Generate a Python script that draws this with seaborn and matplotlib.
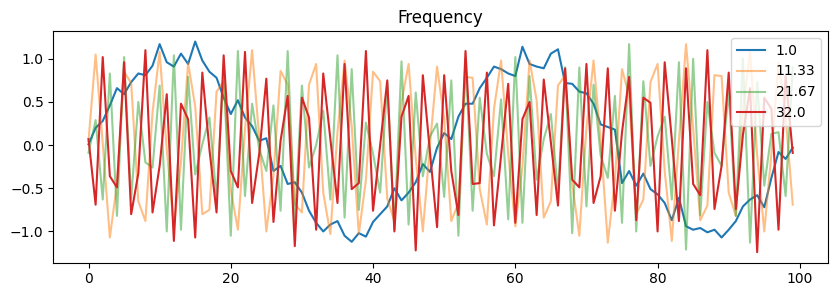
import numpy as np
import pandas as pd
import seaborn as sns
import matplotlib
matplotlib.use("Agg")
import matplotlib.pyplot as plt

# sample index 0..99
idx = list(range(100))

labels = ["1.0", "11.33", "21.67", "32.0"]

# values
f1 = [0.01, 0.20, 0.28, 0.46, 0.66, 0.59, 0.73, 0.83, 0.81, 0.92,
      1.17, 0.96, 0.91, 1.06, 0.94, 1.20, 0.98, 0.85, 0.78, 0.55,
      0.36, 0.52, 0.32, 0.22, 0.05, 0.08, -0.30, -0.24, -0.45, -0.43,
      -0.55, -0.76, -0.90, -1.00, -0.92, -0.88, -1.05, -1.12, -1.02, -1.06,
      -0.89, -0.80, -0.71, -0.50, -0.64, -0.55, -0.43, -0.22, -0.31, -0.03,
      0.14, 0.07, 0.33, 0.48, 0.48, 0.66, 0.78, 0.91, 0.88, 0.83,
      0.80, 1.14, 0.94, 0.91, 0.89, 1.06, 1.11, 0.72, 0.71, 0.62,
      0.60, 0.48, 0.24, 0.21, 0.18, -0.44, -0.30, -0.47, -0.33, -0.51,
      -0.57, -0.67, -0.87, -0.61, -0.94, -0.98, -0.96, -1.01, -0.98, -1.07,
      -0.98, -0.88, -0.71, -0.63, -0.58, -0.72, -0.38, -0.08, -0.16, -0.03]

f11 = [0.05, 1.05, 0.02, -1.07, -0.45, 0.85, 0.72, -0.65, -0.88, 0.38,
       1.08, -0.05, -0.95, -0.20, 0.95, 0.45, -0.80, -0.75, 0.62, 0.74,
       -0.52, -0.98, 0.18, 1.10, 0.08, -1.00, -0.35, 0.86, 0.70, -0.68,
       -0.78, 0.70, 0.94, -0.55, -1.03, 0.15, 0.98, 0.22, -1.03, -0.40,
       0.85, 0.74, -0.62, -0.88, 0.50, 0.94, -0.15, -1.00, 0.00, 0.91,
       0.30, -0.88, -0.67, 0.79, 0.78, -0.51, -0.92, 0.42, 0.98, -0.10,
       -0.94, -0.25, 0.98, 0.52, -0.84, -0.65, 0.69, 0.81, -0.45, -1.05,
       0.20, 0.98, 0.05, -1.13, -0.40, 0.88, 0.57, -0.80, -0.63, 0.73,
       0.94, -0.30, -1.11, 0.05, 1.17, 0.20, -0.87, -0.70, 0.81, 0.80,
       -0.55, -0.82, 0.40, 1.08, -0.12, -1.00, -0.10, 0.96, 0.34, -0.69]

f21 = [-0.09, 0.29, -0.63, 0.83, -0.82, 1.02, -0.62, 0.50, -0.20, -0.26,
       0.69, -1.00, 1.04, -0.98, 0.79, -0.34, 0.01, 0.32, -0.62, 0.85,
       -1.05, 1.09, -0.59, 0.48, -0.05, -0.30, 0.46, -0.76, 1.09, -0.90,
       0.69, -0.26, 0.00, 0.40, -0.63, 1.04, -0.84, 0.88, -0.75, 0.26,
       -0.10, -0.55, 0.72, -0.98, 0.97, -0.92, 0.61, -0.36, 0.10, 0.25,
       -0.60, 0.75, -1.05, 1.00, -0.76, 0.55, -0.10, -0.36, 0.53, -0.86,
       1.02, -0.90, 0.80, -0.40, 0.07, 0.36, -0.55, 0.90, -1.02, 0.90,
       -0.71, 0.70, -0.12, -0.38, 0.57, -0.90, 1.17, -1.00, 0.74, -0.24,
       0.10, 0.33, -0.63, 0.96, -1.21, 1.00, -0.81, 0.50, -0.09, -0.24,
       0.62, -0.82, 1.00, -1.13, 0.73, -0.47, 0.13, 0.15, -0.59, 0.90]

f32 = [0.07, -0.69, 1.02, -0.36, -0.49, 0.96, -0.80, -0.33, 1.10, -0.78,
       -0.24, 0.59, -1.11, 0.48, 0.30, -1.07, 0.84, -0.05, -0.78, 1.04,
       -0.30, -0.49, 1.08, -0.67, -0.10, 0.77, -0.89, 0.05, 0.57, -1.17,
       0.55, 0.32, -0.98, 0.83, 0.07, -0.67, 0.94, -0.51, -0.44, 1.09,
       -0.76, 0.00, 0.75, -1.00, 0.33, 0.57, -1.22, 0.81, -0.08, -0.95,
       0.81, -0.30, -0.81, 1.09, -0.45, -0.44, 0.84, -0.93, -0.12, 0.71,
       -0.90, 0.30, 0.50, -0.81, 0.76, 0.03, -0.70, 0.89, -0.40, -0.49,
       0.94, -0.67, -0.36, 0.89, -0.76, 0.15, 0.79, -0.87, 0.55, 0.49,
       -1.00, 0.96, 0.07, -0.88, 0.89, -0.45, -0.58, 1.10, -0.74, -0.24,
       0.84, -0.74, 0.12, 0.66, -1.24, 0.55, 0.42, -0.98, 0.80, -0.09]

series = [f1, f11, f21, f32]
colors = ["tab:blue", "tab:orange", "tab:green", "tab:red"]
alphas = [1.0, 0.5, 0.5, 1.0]

fig, ax = plt.subplots(figsize=(8.38, 2.97), dpi=100)
fig.subplots_adjust(left=0.0636, right=0.988, bottom=0.1155, top=0.8956)

for lab, vals, c, a in zip(labels, series, colors, alphas):
    df = pd.DataFrame({"x": idx, "y": vals})
    sns.lineplot(data=df, x="x", y="y", color=c, alpha=a, label=lab, ax=ax)

ax.set_xlabel("")
ax.set_ylabel("")
ax.set_title("Frequency")
ax.legend(loc="upper right")

fig.savefig("out.png", dpi=100)
